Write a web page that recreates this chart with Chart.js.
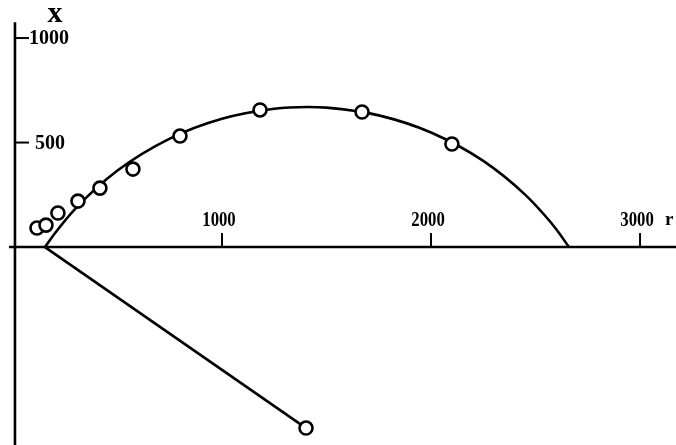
<!DOCTYPE html>
<html>
<head>
<meta charset="utf-8">
<script src="https://cdn.jsdelivr.net/npm/chart.js@4.4.1/dist/chart.umd.min.js"></script>
<style>
  html, body { margin: 0; padding: 0; background: #fff; }
  #wrap { width: 676px; height: 445px; position: relative; }
</style>
</head>
<body>
<div id="wrap"><canvas id="c"></canvas></div>
<script>
// ---- data ----
const measuredR = [115, 158, 215, 311, 416, 574, 799, 1182, 1670, 2100];
const measuredX = [91, 105, 163, 220, 282, 373, 531, 656, 646, 493];

const arcR = [153, 200, 300, 500, 750, 1000, 1250, 1407, 1500, 1750, 2000, 2250, 2450, 2550, 2600, 2660];
const arcX = [0, 65, 185, 366, 519, 614, 662, 670, 667, 630, 548, 412, 251, 145, 84, 0];

const lowerR = [153, 1402];
const lowerX = [0, -866];

const rTicks = [1000, 2000, 3000];
const rTickLabels = ['1000', '2000', '3000'];
const xTicks = [500, 1000];
const xTickLabels = ['500', '1000'];

const rAxisTitle = 'r';
const xAxisTitle = 'x';

const toPts = (a, b) => a.map((v, i) => ({ x: v, y: b[i] }));

function condensedText(ctx, text, x, y, sx) {
  ctx.save();
  ctx.translate(x, y);
  ctx.scale(sx, 1);
  ctx.fillText(text, 0, 0);
  ctx.restore();
}

const axesPlugin = {
  id: 'axesPlugin',
  beforeDatasetsDraw(chart) {
    const { ctx, scales } = chart;
    const sx = scales.x, sy = scales.y;
    const y0 = sy.getPixelForValue(0);
    const x0 = sx.getPixelForValue(0);
    ctx.save();
    ctx.strokeStyle = '#000';
    ctx.lineWidth = 2.6;
    ctx.lineCap = 'butt';
    // horizontal axis
    ctx.beginPath();
    ctx.moveTo(x0 - 4, y0);
    ctx.lineTo(chart.width, y0);
    ctx.stroke();
    // vertical axis
    ctx.beginPath();
    ctx.moveTo(x0 + 2, sy.getPixelForValue(1075));
    ctx.lineTo(x0 + 2, chart.height);
    ctx.stroke();
    // r ticks (upward)
    ctx.lineWidth = 2;
    rTicks.forEach(v => {
      const p = sx.getPixelForValue(v);
      ctx.beginPath();
      ctx.moveTo(p, y0);
      ctx.lineTo(p, y0 - 14);
      ctx.stroke();
    });
    // x ticks (to the right)
    xTicks.forEach(v => {
      const p = sy.getPixelForValue(v);
      ctx.beginPath();
      ctx.moveTo(x0 + 2, p);
      ctx.lineTo(x0 + 16, p);
      ctx.stroke();
    });
    ctx.restore();
  },
  afterDraw(chart) {
    const { ctx, scales } = chart;
    const sx = scales.x, sy = scales.y;
    const y0 = sy.getPixelForValue(0);
    const x0 = sx.getPixelForValue(0);
    ctx.save();
    ctx.fillStyle = '#000';
    ctx.font = 'bold 22px "Liberation Serif", serif';
    ctx.textBaseline = 'middle';
    ctx.textAlign = 'center';
    rTicks.forEach((v, i) => {
      condensedText(ctx, rTickLabels[i], sx.getPixelForValue(v) - 3, y0 - 27, 0.76);
    });
    ctx.textAlign = 'left';
    ctx.font = 'bold 20px "Liberation Serif", serif';
    xTicks.forEach((v, i) => {
      ctx.fillText(xTickLabels[i], x0 + (i === 1 ? 16 : 22), sy.getPixelForValue(v) + 1);
    });
    // axis titles
    ctx.font = 'bold 19px "Liberation Serif", serif';
    ctx.fillText(rAxisTitle, 665, y0 - 27);
    ctx.font = 'bold 30px "Liberation Serif", serif';
    ctx.textAlign = 'center';
    ctx.fillText(xAxisTitle, 55, 14);
    ctx.restore();
  }
};

new Chart(document.getElementById('c'), {
  type: 'scatter',
  data: {
    datasets: [
      {
        label: 'measured',
        data: toPts(measuredR, measuredX),
        showLine: false,
        pointRadius: 6.5,
        pointBorderWidth: 2.6,
        pointBackgroundColor: '#fff',
        pointBorderColor: '#000'
      },
      {
        label: 'lower',
        data: toPts(lowerR, lowerX),
        showLine: true,
        borderColor: '#000',
        borderWidth: 2.6,
        pointRadius: [0, 6.5],
        pointBorderWidth: 2.6,
        pointBackgroundColor: '#fff',
        pointBorderColor: '#000'
      },
      {
        label: 'arc',
        data: toPts(arcR, arcX),
        showLine: true,
        borderColor: '#000',
        borderWidth: 2.6,
        pointRadius: 0,
        tension: 0.4,
        cubicInterpolationMode: 'monotone'
      }
    ]
  },
  options: {
    responsive: true,
    maintainAspectRatio: false,
    animation: false,
    layout: { padding: 0, autoPadding: false },
    plugins: { legend: { display: false }, tooltip: { enabled: false } },
    scales: {
      x: { type: 'linear', min: -62, max: 3172, display: false },
      y: { type: 'linear', min: -947, max: 1182, display: false }
    }
  },
  plugins: [axesPlugin]
});
</script>
</body>
</html>
